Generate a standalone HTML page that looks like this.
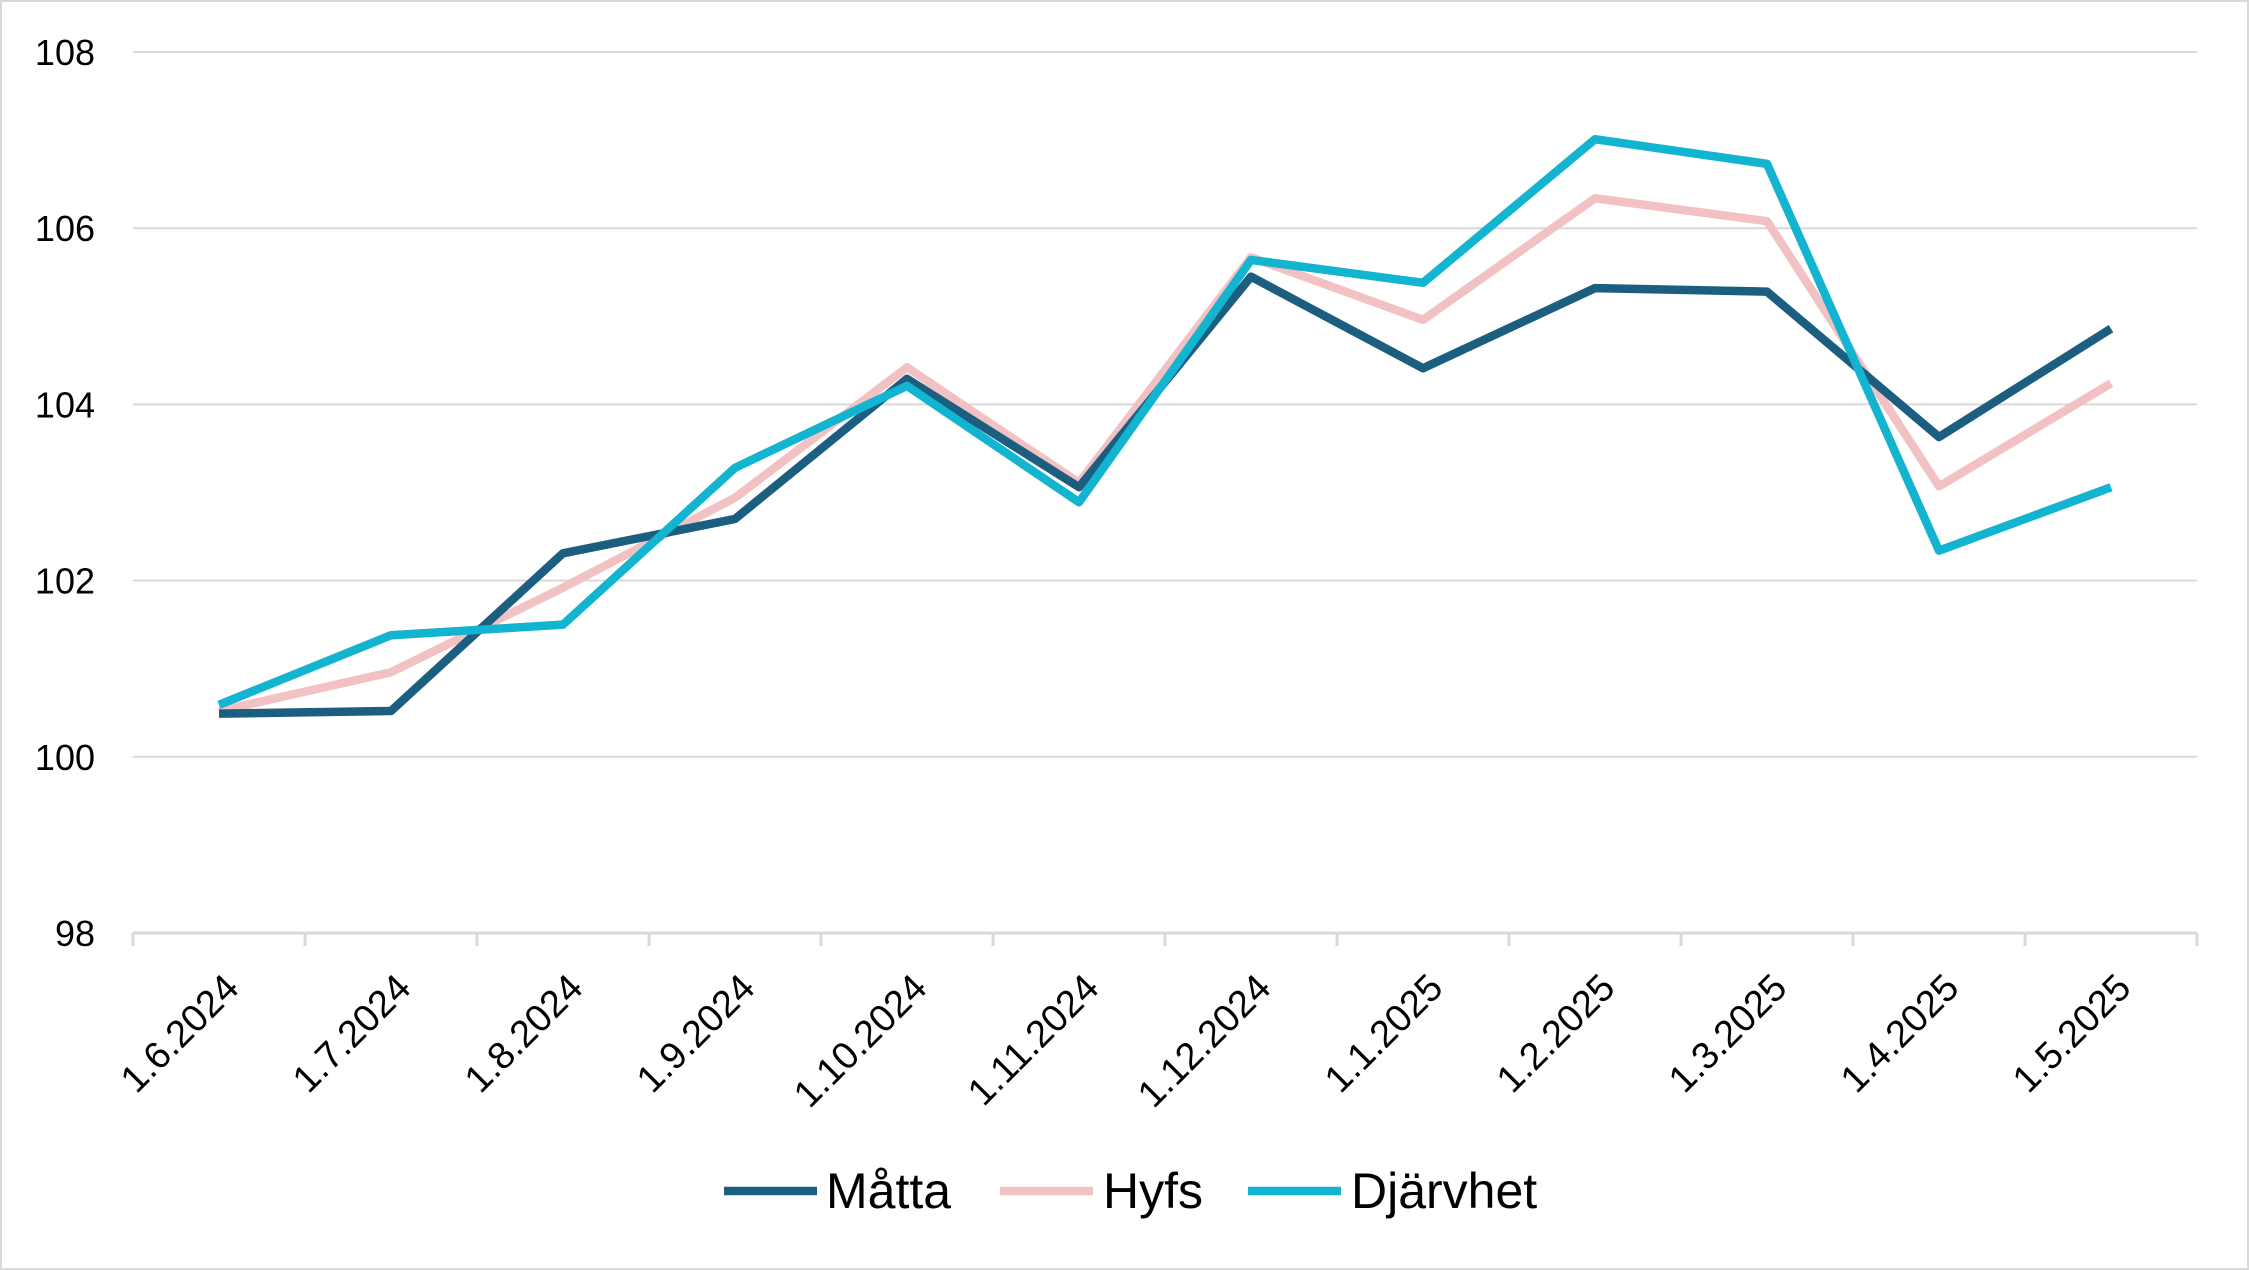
<!DOCTYPE html>
<html><head><meta charset="utf-8"><style>
html,body{margin:0;padding:0;background:#fff;}
svg{display:block;font-family:"Liberation Sans",sans-serif;}
</style></head><body>
<svg id="chart" width="2249" height="1270" viewBox="0 0 2249 1270">
<rect x="1" y="1" width="2247" height="1268" fill="#fff" stroke="#d9d9d9" stroke-width="2"/>
<g id="grid"></g><g id="axes"></g><g id="series"></g>
<g id="legend">
<line x1="724" y1="1191" x2="817" y2="1191" stroke="#1b5e80" stroke-width="8.5"/>
<text x="826" y="1208" font-size="50">Måtta</text>
<line x1="1000" y1="1191" x2="1093" y2="1191" stroke="#f2c1c3" stroke-width="8.5"/>
<text x="1103" y="1208" font-size="50">Hyfs</text>
<line x1="1248" y1="1191" x2="1341" y2="1191" stroke="#12b4cf" stroke-width="8.5"/>
<text x="1351" y="1208" font-size="50">Djärvhet</text>
</g>
</svg>
<script>
const categories=["1.6.2024","1.7.2024","1.8.2024","1.9.2024","1.10.2024","1.11.2024","1.12.2024","1.1.2025","1.2.2025","1.3.2025","1.4.2025","1.5.2025"];
const matta=[100.49,100.52,102.31,102.70,104.29,103.06,105.45,104.41,105.32,105.28,103.63,104.86];
const hyfs=[100.52,100.96,101.92,102.94,104.42,103.11,105.67,104.96,106.34,106.08,103.07,104.24];
const djarvhet=[100.59,101.38,101.50,103.28,104.21,102.89,105.64,105.38,107.01,106.73,102.34,103.06];
const yTicks=[98,100,102,104,106,108];
const NS="http://www.w3.org/2000/svg";
const L=133,R=2197,T=52,B=933,yMin=98,yMax=108;
const bw=(R-L)/categories.length;
const xs=i=>L+bw*(i+0.5);
const ys=v=>B-(v-yMin)/(yMax-yMin)*(B-T);
function mk(tag,a,p){const e=document.createElementNS(NS,tag);for(const k in a)e.setAttribute(k,a[k]);p.appendChild(e);return e;}
const grid=document.getElementById('grid'),axes=document.getElementById('axes'),ser=document.getElementById('series');
yTicks.forEach(t=>{
 if(t!==yMin){const g=mk('line',{x1:L,x2:R,y1:ys(t),y2:ys(t),stroke:'#d9d9d9','stroke-width':2},grid);
 
 }
 const tx=mk('text',{x:L-38,y:ys(t)+13,'text-anchor':'end','font-size':36,fill:'#000'},axes);
 tx.textContent=t;
 
 
});
const ax=mk('line',{x1:L,x2:R,y1:B,y2:B,stroke:'#d9d9d9','stroke-width':3},axes);


for(let i=0;i<=categories.length;i++){
 const tk=mk('line',{x1:L+bw*i,x2:L+bw*i,y1:B,y2:B+13,stroke:'#d9d9d9','stroke-width':3},axes);
 
 
}
categories.forEach((c,i)=>{
 const x=xs(i)+22,y=990;
 const t=mk('text',{x:x,y:y,'text-anchor':'end','font-size':38,transform:`rotate(-45 ${x} ${y})`},axes);
 t.textContent=c;
 
 
});
[[hyfs,'#f2c1c3','series-hyfs'],[matta,'#1b5e80','series-matta'],[djarvhet,'#12b4cf','series-djarvhet']].forEach(([d,col,n])=>{
 const p=mk('polyline',{points:d.map((v,i)=>xs(i)+','+ys(v)).join(' '),fill:'none',stroke:col,'stroke-width':8.5,'stroke-linejoin':'round'},ser);
 
 
});
</script>
</body></html>
